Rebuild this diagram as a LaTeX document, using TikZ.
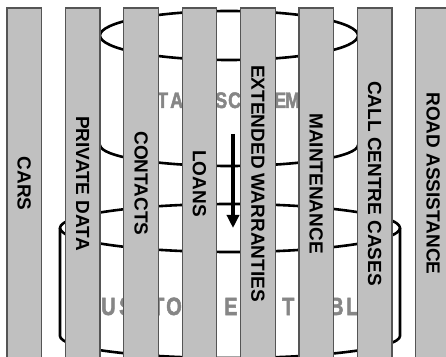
\documentclass[tikz,border=0pt]{standalone}
\usepackage{fontspec}
\setmainfont{Liberation Sans}
\newfontfamily\ghostfont[FakeStretch=0.8, FakeBold=2, UprightFont={* Bold}]{Liberation Sans}
\usetikzlibrary{arrows.meta}
\definecolor{barfill}{RGB}{192,192,192}
\definecolor{barline}{RGB}{85,85,85}
\definecolor{ghost}{RGB}{134,134,134}
\newcommand\glyphat[2]{\makebox[#1pt][l]{#2}}
\begin{document}
\begin{tikzpicture}[x=1pt,y=1pt,
  bar/.style={draw=barline, line width=1.2pt, fill=barfill, rotate=-90,
    minimum width=351pt, minimum height=34.5pt, inner sep=0pt,
    font=\bfseries\fontsize{19}{19}\selectfont},
  cyl/.style={line width=2.6pt, draw=black},
  ghosttext/.style={inner sep=0pt, text=ghost, anchor=base west}]
\fill[white] (0,0) rectangle (446,356);
\useasboundingbox (0,0) rectangle (446,356);

% ghost titles of the two cylinders
\node[ghosttext, font=\ghostfont\fontsize{22.5}{22.5}\selectfont] (scheme) at (127,248)
  {\glyphat{15}{D}\glyphat{15}{A}\glyphat{13}{T}\glyphat{13}{A}\glyphat{32}{\ }%
   \glyphat{13}{S}\glyphat{20}{C}\glyphat{26}{H}\glyphat{11}{E}\glyphat{16}{M}E};
\node[ghosttext, font=\ghostfont\fontsize{25}{25}\selectfont] (customer) at (79,41)
  {\glyphat{22}{C}\glyphat{18}{U}\glyphat{33}{S}\glyphat{14}{T}\glyphat{24}{O}%
   \glyphat{34}{M}\glyphat{26}{E}\glyphat{16}{R}\glyphat{16}{\ }\glyphat{24}{T}%
   \glyphat{23}{A}\glyphat{17}{B}\glyphat{18}{L}E};

% upper cylinder
\draw[cyl] (229,320.5) ellipse[x radius=129, y radius=24.5];
\draw[cyl] (100,211) arc[start angle=180, end angle=360, x radius=129, y radius=21];

% lower cylinder
\draw[cyl] (230,128) ellipse[x radius=170, y radius=24];
\draw[cyl] (60,128) -- (60,20) arc[start angle=180, end angle=360, x radius=170, y radius=22] -- (400,128);

% arrow
\coordinate (arrowtop) at (233,222);
\coordinate (arrowtip) at (233,128);
\draw[line width=3.5pt, -{Triangle[length=13pt,width=12pt]}] (arrowtop) -- (arrowtip);

% vertical bars
\foreach \i/\t in {1/CARS, 2/PRIVATE DATA, 3/CONTACTS, 4/LOANS,
    5/EXTENDED WARRANTIES, 6/MAINTENANCE, 7/CALL CENTRE CASES, 8/ROAD ASSISTANCE}
  \node[bar] (bar\i) at ({24.25+58.4*(\i-1)},172.5) {\t};
\end{tikzpicture}
\end{document}
